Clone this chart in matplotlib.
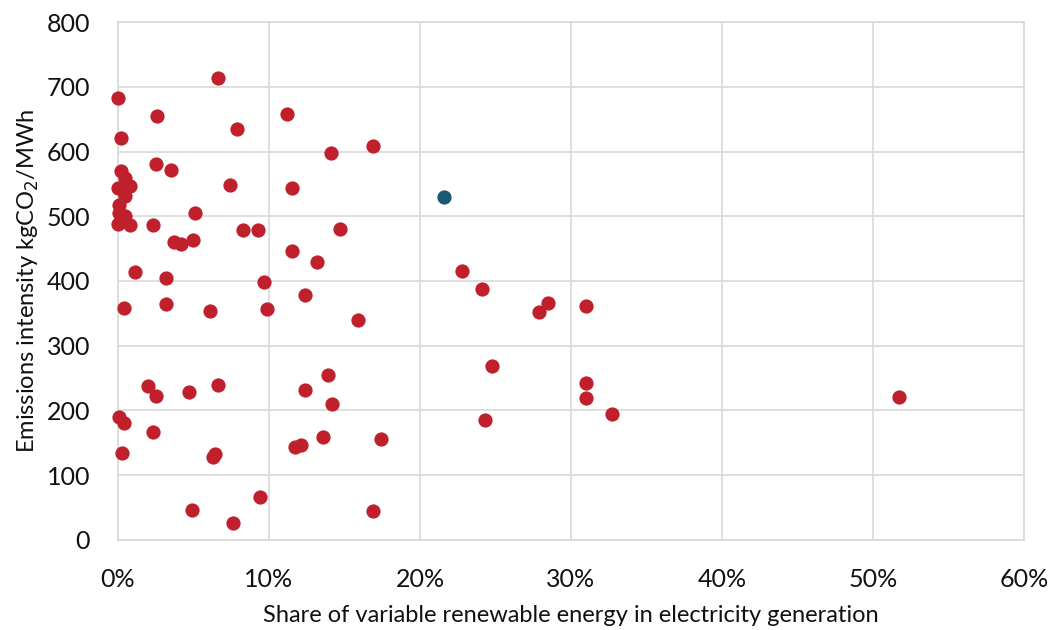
import matplotlib.pyplot as plt
from matplotlib.ticker import PercentFormatter

# share of variable renewables (%) and emissions intensity (kgCO2/MWh)
vre_share = [0.0, 0.2, 6.6, 2.6, 7.9, 11.2, 14.1, 16.9,
             2.5, 3.5, 0.2, 0.5, 0.0, 0.8, 0.5, 7.4, 11.5,
             0.1, 0.1, 0.5, 0.0, 0.8, 2.3, 5.1,
             8.3, 9.3, 11.5, 3.7, 4.2, 5.0, 14.7, 13.2,
             1.1, 3.2, 9.7, 12.4, 0.4, 3.2, 6.1, 9.9, 15.9,
             22.8, 24.1, 28.5, 27.9, 31.0, 24.8, 31.0, 31.0, 32.7, 24.3, 51.7,
             2.0, 2.5, 4.7, 6.6, 0.1, 0.4, 2.3, 0.3, 6.3, 6.4,
             13.9, 12.4, 14.2, 11.7, 12.1, 13.6, 17.4,
             4.9, 7.6, 9.4, 16.9]
intensity = [683, 621, 714, 655, 635, 658, 597, 608,
             580, 572, 570, 559, 543, 547, 531, 549, 543,
             518, 505, 500, 488, 487, 486, 505,
             478, 478, 447, 460, 457, 463, 480, 430,
             414, 405, 398, 378, 358, 364, 354, 357, 340,
             415, 388, 366, 352, 362, 268, 243, 219, 194, 185, 221,
             238, 222, 228, 239, 190, 180, 167, 135, 128, 132,
             255, 232, 210, 144, 146, 159, 156,
             46, 26, 67, 45]

# highlighted country
hl_share = [21.6]
hl_intensity = [530]

plt.rcParams['font.family'] = ['Lato', 'DejaVu Sans']

fig = plt.figure(figsize=(10.53, 6.30), dpi=100)
ax = fig.add_axes([0.112, 0.143, 0.8605, 0.822])

ax.scatter(vre_share, intensity, s=105, color='#C0202B', zorder=3,
           linewidths=0, clip_on=False)
ax.scatter(hl_share, hl_intensity, s=105, color='#1D5873', zorder=3,
           linewidths=0, clip_on=False)

ax.set_xlim(0, 60)
ax.set_ylim(0, 800)
ax.set_xticks(range(0, 61, 10))
ax.set_yticks(range(0, 801, 100))
ax.xaxis.set_major_formatter(PercentFormatter(decimals=0))
ax.grid(True, color='#d9d9d9', linewidth=1.2)
ax.set_axisbelow(True)
for s in ax.spines.values():
    s.set_color('#d9d9d9')
    s.set_linewidth(1.2)
ax.tick_params(length=0, labelsize=18, colors='#111111')
ax.tick_params(axis='x', pad=20)
ax.tick_params(axis='y', pad=20)

ax.set_xlabel('Share of variable renewable energy in electricity generation',
              fontsize=17, labelpad=10, color='#111111')
ax.set_ylabel('Emissions intensity kgCO$_2$/MWh', fontsize=17,
              labelpad=4, color='#111111')

fig.savefig('out.png', dpi=100)
